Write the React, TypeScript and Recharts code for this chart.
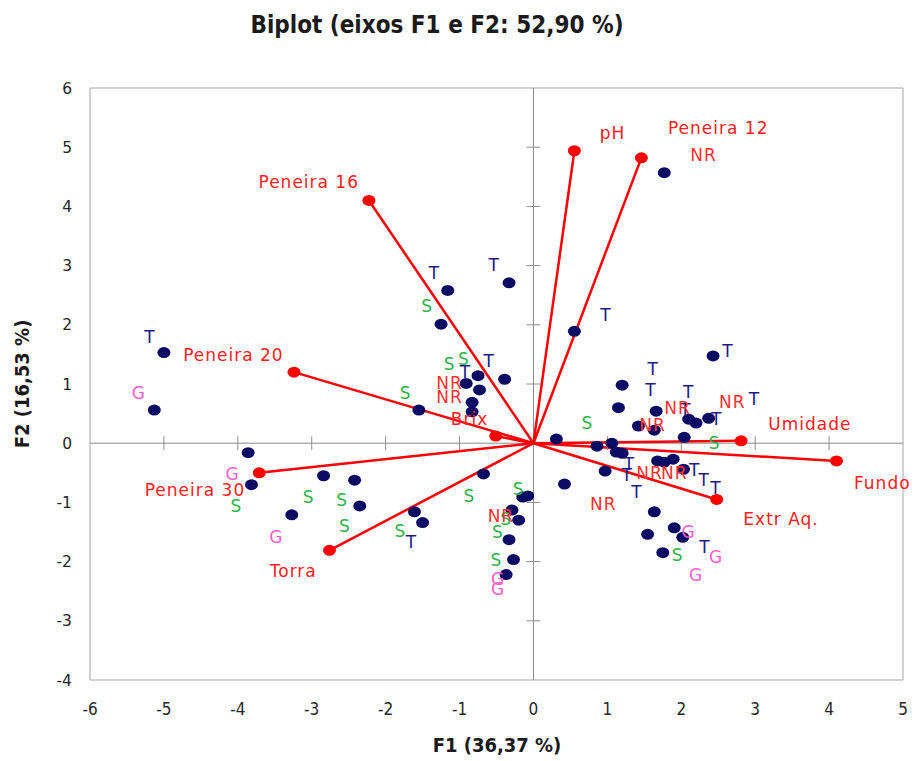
import {
  ScatterChart,
  Scatter,
  XAxis,
  YAxis,
  ReferenceLine,
  ReferenceDot,
  ReferenceArea,
} from 'recharts'

const xTicks = [-6, -5, -4, -3, -2, -1, 0, 1, 2, 3, 4, 5]
const yTicks = [-4, -3, -2, -1, 0, 1, 2, 3, 4, 5, 6]

// observações (F1, F2)
const observations = [
  { x: -5.0, y: 1.53 }, { x: -5.13, y: 0.56 }, { x: -1.16, y: 2.58 }, { x: -0.33, y: 2.71 },
  { x: -1.25, y: 2.01 }, { x: -1.55, y: 0.56 }, { x: -0.75, y: 1.14 }, { x: -0.39, y: 1.08 },
  { x: -0.91, y: 1.01 }, { x: -0.73, y: 0.9 }, { x: -0.83, y: 0.69 }, { x: -0.83, y: 0.53 },
  { x: -3.86, y: -0.16 }, { x: -3.815, y: -0.7 }, { x: -2.84, y: -0.55 }, { x: -2.42, y: -0.625 },
  { x: -2.35, y: -1.06 }, { x: -3.27, y: -1.21 }, { x: -1.61, y: -1.16 }, { x: -1.5, y: -1.34 },
  { x: -0.676, y: -0.52 }, { x: -0.145, y: -0.91 }, { x: -0.077, y: -0.89 }, { x: -0.29, y: -1.13 },
  { x: -0.2, y: -1.3 }, { x: -0.33, y: -1.63 }, { x: -0.27, y: -1.965 }, { x: -0.37, y: -2.22 },
  { x: 1.77, y: 4.57 }, { x: 0.554, y: 1.89 }, { x: 2.43, y: 1.475 }, { x: 1.2, y: 0.98 },
  { x: 1.15, y: 0.6 }, { x: 1.66, y: 0.54 }, { x: 1.42, y: 0.29 }, { x: 1.635, y: 0.22 },
  { x: 2.1, y: 0.405 }, { x: 2.2, y: 0.34 }, { x: 2.37, y: 0.42 }, { x: 2.04, y: 0.1 },
  { x: 0.31, y: 0.07 }, { x: 0.86, y: -0.05 }, { x: 1.06, y: 0.0 }, { x: 1.12, y: -0.15 },
  { x: 1.2, y: -0.17 }, { x: 1.68, y: -0.3 }, { x: 1.77, y: -0.32 }, { x: 1.89, y: -0.27 },
  { x: 2.03, y: -0.44 }, { x: 0.97, y: -0.47 }, { x: 0.42, y: -0.69 }, { x: 1.635, y: -1.16 },
  { x: 1.905, y: -1.43 }, { x: 2.02, y: -1.59 }, { x: 1.545, y: -1.54 }, { x: 1.75, y: -1.85 },
]

// rótulos das observações
const tLabels = [
  { x: -1.34, y: 2.87 }, { x: -0.53, y: 3.01 }, { x: -5.19, y: 1.8 }, { x: -0.6, y: 1.39 },
  { x: -0.92, y: 1.2 }, { x: -1.65, y: -1.67 }, { x: 0.98, y: 2.16 }, { x: 2.63, y: 1.56 },
  { x: 1.62, y: 1.26 }, { x: 1.59, y: 0.895 }, { x: 2.1, y: 0.86 }, { x: 2.99, y: 0.75 },
  { x: 2.06, y: 0.56 }, { x: 2.48, y: 0.405 }, { x: 1.3, y: -0.355 }, { x: 1.27, y: -0.53 },
  { x: 2.18, y: -0.455 }, { x: 2.31, y: -0.625 }, { x: 2.47, y: -0.76 }, { x: 1.4, y: -0.82 },
  { x: 2.32, y: -1.76 },
]
const sLabels = [
  { x: -1.44, y: 2.31 }, { x: -1.135, y: 1.33 }, { x: -0.94, y: 1.43 }, { x: -1.73, y: 0.84 },
  { x: -4.02, y: -1.06 }, { x: -3.04, y: -0.91 }, { x: -2.59, y: -0.96 }, { x: -2.55, y: -1.4 },
  { x: -1.8, y: -1.49 }, { x: -0.865, y: -0.89 }, { x: -0.2, y: -0.78 }, { x: -0.37, y: -1.28 },
  { x: -0.48, y: -1.5 }, { x: -0.5, y: -1.98 }, { x: 0.73, y: 0.34 }, { x: 2.45, y: 0.0 },
  { x: 1.95, y: -1.89 },
]
const gLabels = [
  { x: -5.34, y: 0.84 }, { x: -4.07, y: -0.52 }, { x: -3.48, y: -1.58 }, { x: -0.48, y: -2.3 },
  { x: -0.48, y: -2.47 }, { x: 2.1, y: -1.5 }, { x: 2.47, y: -1.93 }, { x: 2.2, y: -2.22 },
]
const nrLabels = [
  { x: -1.135, y: 1.01 }, { x: -1.135, y: 0.78 }, { x: -0.44, y: -1.23 }, { x: 2.3, y: 4.86 },
  { x: 2.69, y: 0.7 }, { x: 1.95, y: 0.59 }, { x: 1.61, y: 0.3 }, { x: 1.57, y: -0.5 },
  { x: 1.905, y: -0.5 }, { x: 0.946, y: -1.03 },
]

// variáveis (vetores)
const variables = [
  { name: 'pH', x: 0.554, y: 4.94 },
  { name: 'Peneira 12', x: 1.46, y: 4.82 },
  { name: 'Peneira 16', x: -2.226, y: 4.1 },
  { name: 'Peneira 20', x: -3.24, y: 1.2 },
  { name: 'Brix', x: -0.51, y: 0.12 },
  { name: 'Peneira 30', x: -3.71, y: -0.5 },
  { name: 'Torra', x: -2.76, y: -1.81 },
  { name: 'Umidade', x: 2.81, y: 0.04 },
  { name: 'Fundo', x: 4.1, y: -0.3 },
  { name: 'Extr Aq.', x: 2.48, y: -0.95 },
]
const variableLabels = [
  { name: 'pH', x: 1.07, y: 5.24 },
  { name: 'Peneira 12', x: 2.5, y: 5.32 },
  { name: 'Peneira 16', x: -3.04, y: 4.41 },
  { name: 'Peneira 20', x: -4.06, y: 1.49 },
  { name: 'Brix', x: -0.865, y: 0.41 },
  { name: 'Peneira 30', x: -4.58, y: -0.79 },
  { name: 'Torra', x: -3.25, y: -2.16 },
  { name: 'Umidade', x: 3.74, y: 0.32 },
  { name: 'Fundo', x: 4.72, y: -0.67 },
  { name: 'Extr Aq.', x: 3.35, y: -1.28 },
]

const innerXTicks = [-5, -4, -3, -2, -1, 1, 2, 3, 4]
const innerYTicks = [-3, -2, -1, 1, 2, 3, 4, 5]

const labelFont = "'DejaVu Sans', Verdana, sans-serif"
const narrowFont = "'Liberation Sans Narrow', 'DejaVu Sans Condensed', 'Open Sans', sans-serif"
const axisGrey = '#8c8c8c'

function textShape(color: string, fixed?: string) {
  return (props: any) => (
    <text
      x={props.cx}
      y={props.cy}
      textAnchor='middle'
      dominantBaseline='central'
      fill={color}
      fontSize={17}
      letterSpacing={1}
      fontFamily={labelFont}
    >
      {fixed ?? props.payload?.name}
    </text>
  )
}

const dotShape = (color: string) => (props: any) => (
  <ellipse cx={props.cx} cy={props.cy} rx={6.5} ry={5.5} fill={color} />
)

const vTick = (props: any) => (
  <line x1={props.cx} y1={props.cy - 7} x2={props.cx} y2={props.cy + 7} stroke={axisGrey} strokeWidth={1} />
)
const hTick = (props: any) => (
  <line x1={props.cx - 7} y1={props.cy} x2={props.cx + 7} y2={props.cy} stroke={axisGrey} strokeWidth={1} />
)

export default function App() {
  return (
    <div style={{ position: 'absolute', left: 0, top: 0, width: 921, height: 761, background: '#fff' }}>
      <div
        style={{
          position: 'absolute',
          left: 0,
          width: 874,
          top: 11,
          textAlign: 'center',
          fontFamily: narrowFont,
          fontWeight: 'bold',
          fontSize: 24,
          color: '#1a1a1a',
        }}
      >
        Biplot (eixos F1 e F2: 52,90 %)
      </div>
      <ScatterChart width={921} height={761} margin={{ top: 88, right: 18, bottom: 41, left: 0 }}>
        <XAxis
          type='number'
          dataKey='x'
          domain={[-6, 5]}
          ticks={xTicks}
          interval={0}
          axisLine={false}
          tickLine={false}
          height={40}
          tickMargin={17}
          tick={{ fontSize: 17, fill: '#262626', fontFamily: narrowFont }}
        />
        <YAxis
          type='number'
          dataKey='y'
          domain={[-4, 6]}
          ticks={yTicks}
          interval={0}
          axisLine={false}
          tickLine={false}
          width={90}
          tickMargin={12}
          tick={{ fontSize: 15.5, fill: '#262626', fontFamily: labelFont }}
        />
        <ReferenceArea x1={-6} x2={5} y1={-4} y2={6} fill='none' stroke='#a6a6a6' strokeWidth={1} />
        <ReferenceLine x={0} stroke={axisGrey} strokeWidth={1} />
        <ReferenceLine y={0} stroke={axisGrey} strokeWidth={1} />
        {innerXTicks.map((t) => (
          <ReferenceDot key={'xt' + t} x={t} y={0} shape={vTick} />
        ))}
        {innerYTicks.map((t) => (
          <ReferenceDot key={'yt' + t} x={0} y={t} shape={hTick} />
        ))}
        {variables.map((v) => (
          <ReferenceLine
            key={v.name}
            segment={[{ x: 0, y: 0 }, { x: v.x, y: v.y }]}
            stroke='#ff0000'
            strokeWidth={2.5}
          />
        ))}
        <Scatter data={observations} shape={dotShape('#0b0b63')} isAnimationActive={false} />
        <Scatter data={variables} shape={dotShape('#ff0000')} isAnimationActive={false} />
        <Scatter data={variableLabels} shape={textShape('#ff2020')} isAnimationActive={false} />
        <Scatter data={tLabels} shape={textShape('#1c1c84', 'T')} isAnimationActive={false} />
        <Scatter data={sLabels} shape={textShape('#2db34a', 'S')} isAnimationActive={false} />
        <Scatter data={gLabels} shape={textShape('#ff5ccc', 'G')} isAnimationActive={false} />
        <Scatter data={nrLabels} shape={textShape('#ff3030', 'NR')} isAnimationActive={false} />
      </ScatterChart>
      <div
        style={{
          position: 'absolute',
          left: 0,
          width: 994,
          top: 733,
          textAlign: 'center',
          fontFamily: narrowFont,
          fontWeight: 'bold',
          fontSize: 20,
          color: '#1a1a1a',
        }}
      >
        F1 (36,37 %)
      </div>
      <div
        style={{
          position: 'absolute',
          left: 22,
          top: 384,
          transform: 'translate(-50%, -50%) rotate(-90deg)',
          whiteSpace: 'nowrap',
          fontFamily: narrowFont,
          fontWeight: 'bold',
          fontSize: 20,
          color: '#1a1a1a',
        }}
      >
        F2 (16,53 %)
      </div>
    </div>
  )
}
